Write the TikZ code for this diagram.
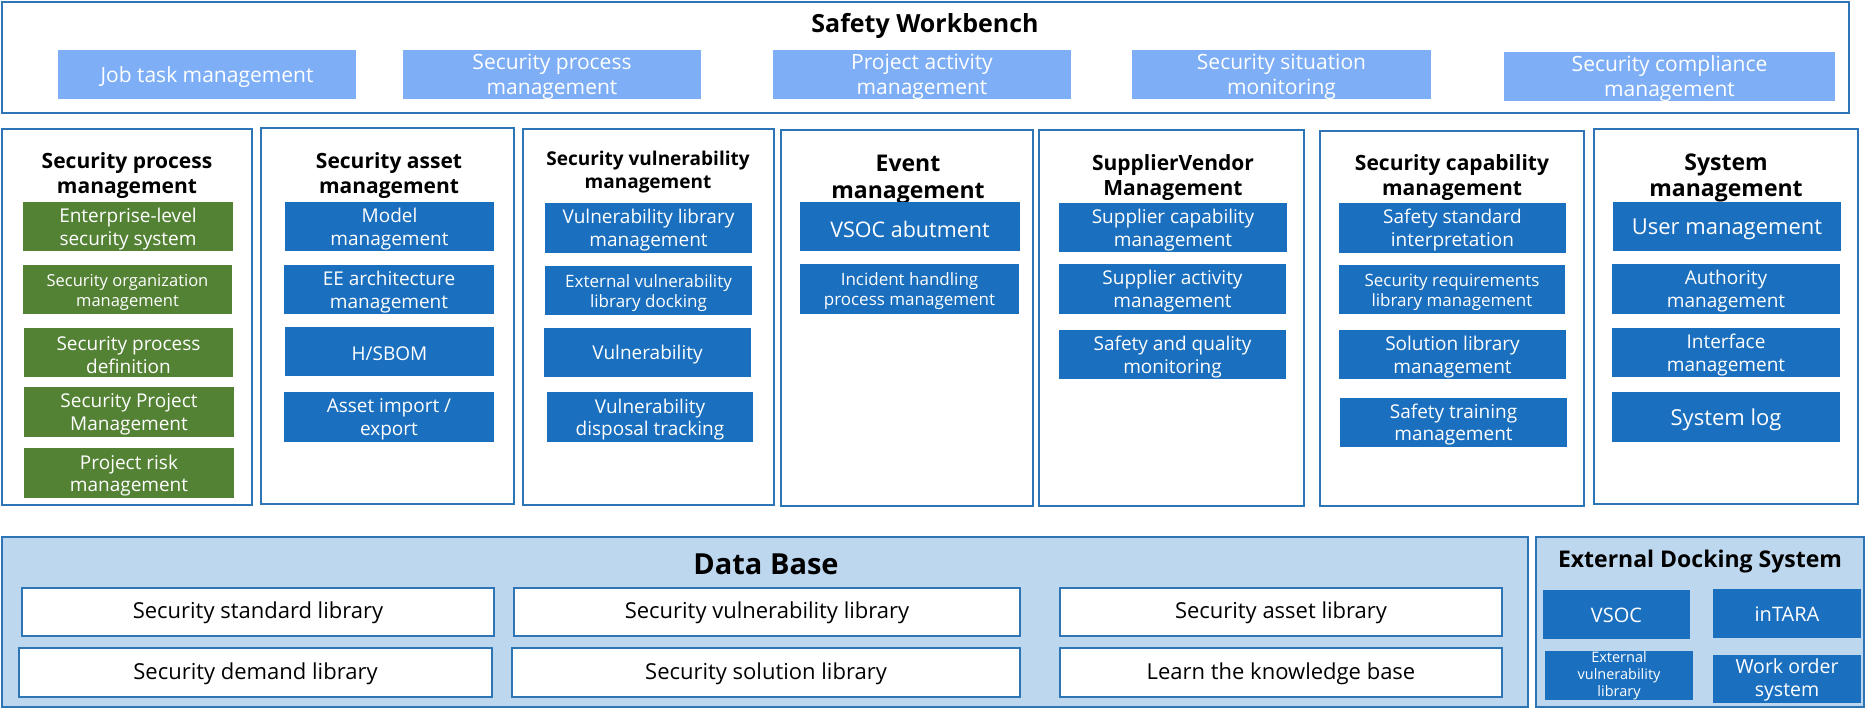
\documentclass[tikz,border=0pt]{standalone}
\usepackage{fontspec}
\setmainfont{Open Sans}
\definecolor{frameblue}{HTML}{2E75B6}
\definecolor{wblue}{HTML}{7DAEF6}
\definecolor{boxblue}{HTML}{1A6FBF}
\definecolor{boxgreen}{HTML}{548235}
\definecolor{dbfill}{HTML}{BDD7EE}
\newcommand{\fsz}[2]{\fontsize{#1}{#2}\selectfont}
\def\tshift{2.5pt}
\tikzset{tshift/.store in=\tshift}
% box node (empty) plus its text node, shifted slightly down like the reference
\newcommand{\bx}[7]{%
  \node[#2, minimum width={(#5-#3)*1pt}, minimum height={(#6-#4)*1pt}] (#1) at ({(#3+#5)/2},{(#4+#6)/2}) {};
  \node[#2, fill=none, draw=none, minimum width=0pt, minimum height=0pt, yshift=-\tshift] (#1t) at (#1.center) {#7};}
\begin{document}
\begin{tikzpicture}[x=1pt,y=-1pt,
  frame/.style={draw=frameblue, line width=2.2pt, inner sep=0pt, outer sep=0pt},
  wbitem/.style={fill=wblue, text=white, align=center, inner sep=0pt, font=\fsz{21}{25}},
  bbox/.style={fill=boxblue, text=white, align=center, inner sep=0pt},
  gbox/.style={fill=boxgreen, text=white, align=center, inner sep=0pt},
  dbitem/.style={draw=frameblue, line width=2pt, fill=white, align=center, inner sep=0pt, font=\fsz{22}{26}, tshift=1.2pt},
  ttl/.style={align=center, inner sep=0pt, text=black}
]
\useasboundingbox (0,0) rectangle (1866,708);
% ---------- Safety workbench ----------
\bx{wb}{frame}{2}{2}{1849}{113}{}
\node[ttl, font=\bfseries\fsz{25}{29}] (wbt) at (925,26) {Safety Workbench};
\bx{wb1}{wbitem}{58}{50}{356}{99}{Job task management}
\bx{wb2}{wbitem}{403}{50}{701}{99}{Security process\\management}
\bx{wb3}{wbitem}{773}{50}{1071}{99}{Project activity\\management}
\bx{wb4}{wbitem}{1132}{50}{1431}{99}{Security situation\\monitoring}
\bx{wb5}{wbitem}{1504}{52}{1835}{101}{Security compliance\\management}
% ---------- columns ----------
\bx{c1}{frame}{2}{129}{252}{505}{}
\bx{c2}{frame}{261}{128}{514}{504}{}
\bx{c3}{frame}{523}{129}{774}{505}{}
\bx{c4}{frame}{781}{130}{1033}{506}{}
\bx{c5}{frame}{1039}{130}{1304}{506}{}
\bx{c6}{frame}{1320}{131}{1584}{506}{}
\bx{c7}{frame}{1594}{129}{1858}{504}{}
\node[ttl, font=\bfseries\fsz{21}{25}] (c1t) at (127,175.5) {Security process\\management};
\node[ttl, font=\bfseries\fsz{21}{25}] (c2t) at (389,175.5) {Security asset\\management};
\node[ttl, font=\bfseries\fsz{19}{23}] (c3t) at (648,172) {Security vulnerability\\management};
\node[ttl, font=\bfseries\fsz{23}{27}] (c4t) at (908,179.5) {Event\\management};
\node[ttl, font=\bfseries\fsz{21}{25.5}] (c5t) at (1173,177.5) {SupplierVendor\\Management};
\node[ttl, font=\bfseries\fsz{21}{25}] (c6t) at (1452,177.5) {Security capability\\management};
\node[ttl, font=\bfseries\fsz{23}{26.5}] (c7t) at (1726,178) {System\\management};
% column 1
\bx{g1}{gbox,font=\fsz{19}{22.5}}{23}{202}{233}{251}{Enterprise-level\\security system}
\bx{g2}{gbox,font=\fsz{16.5}{20}}{23}{265}{232}{314}{Security organization\\management}
\bx{g3}{gbox,font=\fsz{19}{22.5}}{24}{328}{233}{377}{Security process\\definition}
\bx{g4}{gbox,font=\fsz{19}{22.5}}{24}{387}{234}{437}{Security Project\\Management}
\bx{g5}{gbox,font=\fsz{19}{22.5}}{24}{448}{234}{498}{Project risk\\management}
% column 2
\bx{a1}{bbox,font=\fsz{19}{22.5}}{285}{202}{494}{251}{Model\\management}
\bx{a2}{bbox,font=\fsz{19}{22.5}}{284}{265}{494}{314}{EE architecture\\management}
\bx{a3}{bbox,font=\fsz{19}{22.5}}{285}{327}{494}{376}{H/SBOM}
\bx{a4}{bbox,font=\fsz{19}{22.5}}{284}{392}{494}{442}{Asset import /\\export}
% column 3
\bx{v1}{bbox,font=\fsz{19}{23}}{545}{203}{752}{253}{Vulnerability library\\management}
\bx{v2}{bbox,font=\fsz{17}{20}}{545}{266}{752}{315}{External vulnerability\\library docking}
\bx{v3}{bbox,font=\fsz{19}{23}}{544}{328}{751}{377}{Vulnerability}
\bx{v4}{bbox,font=\fsz{19}{22}}{547}{392}{753}{442}{Vulnerability\\disposal tracking}
% column 4
\bx{e1}{bbox,font=\fsz{21.5}{25}}{800}{202}{1020}{251}{VSOC abutment}
\bx{e2}{bbox,font=\fsz{17}{20}}{800}{264}{1019}{314}{Incident handling\\process management}
% column 5
\bx{s1}{bbox,font=\fsz{19}{23}}{1059}{203}{1287}{252}{Supplier capability\\management}
\bx{s2}{bbox,font=\fsz{19}{23}}{1059}{264}{1286}{314}{Supplier activity\\management}
\bx{s3}{bbox,font=\fsz{19}{23}}{1059}{330}{1286}{379}{Safety and quality\\monitoring}
% column 6
\bx{k1}{bbox,font=\fsz{19}{23}}{1339}{203}{1566}{253}{Safety standard\\interpretation}
\bx{k2}{bbox,font=\fsz{17}{20}}{1339}{265}{1565}{314}{Security requirements\\library management}
\bx{k3}{bbox,font=\fsz{19}{23}}{1339}{330}{1566}{379}{Solution library\\management}
\bx{k4}{bbox,font=\fsz{19}{22}}{1340}{398}{1567}{447}{Safety training\\management}
% column 7
\bx{m1}{bbox,font=\fsz{22}{26}}{1613}{202}{1841}{251}{User management}
\bx{m2}{bbox,font=\fsz{19}{23}}{1612}{264}{1840}{314}{Authority\\management}
\bx{m3}{bbox,font=\fsz{19}{23}}{1612}{328}{1840}{377}{Interface\\management}
\bx{m4}{bbox,font=\fsz{22}{26}}{1612}{392}{1840}{442}{System log}
% ---------- Data base ----------
\bx{db}{frame,fill=dbfill}{2}{537}{1528}{707}{}
\node[ttl, font=\bfseries\fsz{29}{33}] (dbt) at (766,564.5) {Data Base};
\bx{d1}{dbitem}{22}{588}{494}{636}{Security standard library}
\bx{d2}{dbitem}{514}{588}{1020}{636}{Security vulnerability library}
\bx{d3}{dbitem}{1060}{588}{1502}{636}{Security asset library}
\bx{d4}{dbitem}{19}{648}{492}{697}{Security demand library}
\bx{d5}{dbitem}{512}{648}{1020}{697}{Security solution library}
\bx{d6}{dbitem}{1060}{648}{1502}{697}{Learn the knowledge base}
% ---------- External docking ----------
\bx{ex}{frame,fill=dbfill}{1536}{537}{1864}{707}{}
\node[ttl, font=\bfseries\fsz{23}{27}] (ext) at (1700,562) {External Docking System};
\bx{x1}{bbox,font=\fsz{20}{24},tshift=0.5pt}{1543}{590}{1690}{639}{VSOC}
\bx{x2}{bbox,font=\fsz{20}{24},tshift=0.5pt}{1713}{589}{1861}{638}{inTARA}
\bx{x3}{bbox,font=\fsz{14.5}{17},tshift=0.5pt}{1545}{651}{1693}{700}{External\\vulnerability\\library}
\bx{x4}{bbox,font=\fsz{19.5}{23.5},tshift=1pt}{1713}{655}{1861}{703}{Work order\\system}
\end{tikzpicture}
\end{document}
